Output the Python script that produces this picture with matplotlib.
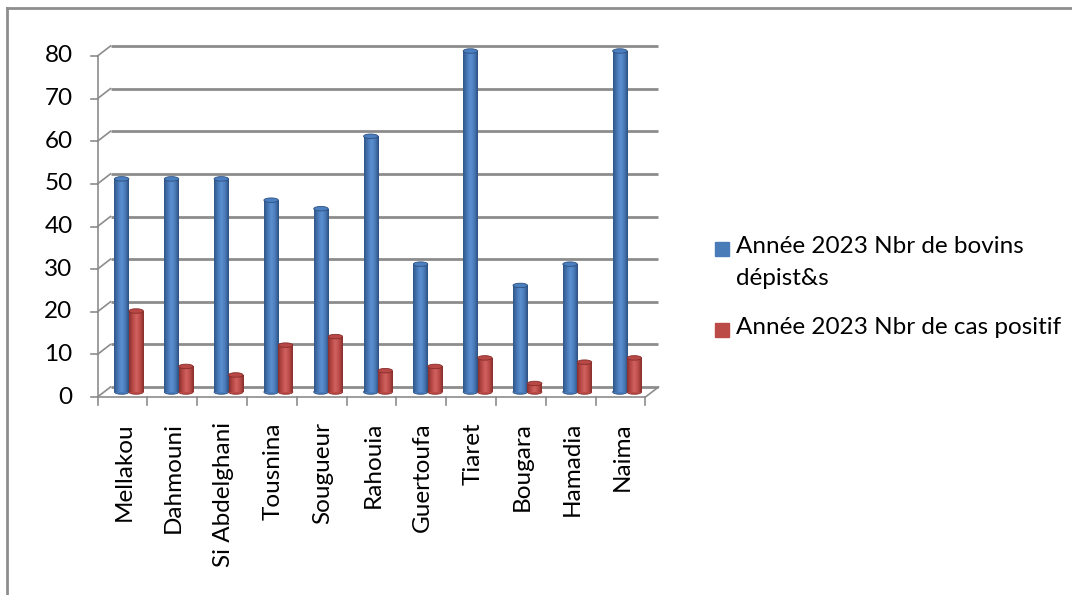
import numpy as np
import matplotlib.pyplot as plt
from matplotlib.colors import LinearSegmentedColormap
from matplotlib.patches import Ellipse, Rectangle

# --- data ---
communes = ["Mellakou", "Dahmouni", "Si Abdelghani", "Tousnina", "Sougueur",
            "Rahouia", "Guertoufa", "Tiaret", "Bougara", "Hamadia", "Naima"]
depistes = [50, 50, 50, 45, 43, 60, 30, 80, 25, 30, 80]
positifs = [19, 6, 4, 11, 13, 5, 6, 8, 2, 7, 8]
series_labels = ["Année 2023 Nbr de bovins\ndépist&s",
                 "Année 2023 Nbr de cas positif"]
y_ticks = list(range(0, 81, 10))

# --- style ---
FONT = "Lato"
FS = 17.5
GRID = "#8c8c8c"
BLUE = ["#2f5687", "#4676b4", "#5d90d0", "#4a7bb9", "#2c5080"]
RED = ["#8a302d", "#b94946", "#d0625f", "#bc4b48", "#862e2b"]
BLUE_TOP, RED_TOP = "#4c7fc0", "#b84845"

W, H = 1072, 595
fig = plt.figure(figsize=(W / 100, H / 100), dpi=100)


def fx(px):
    return px / W


def fy(py):
    return 1 - py / H


# plane in which the cylinders stand (between front and back walls)
ax = fig.add_axes([fx(104), fy(392), fx(652) - fx(104), fy(51) - fy(392)])
ax.set_xlim(-0.5, len(communes) - 0.5)
ax.set_ylim(0, 80)
ax.axis("off")

# pixel offsets of the front edge and the back wall, turned into data units
ppx = (652 - 104) / len(communes)
ppy = (392 - 51) / 80
DX, DY = 6.5 / ppx, 5 / ppy
x0, x1 = -0.5, len(communes) - 0.5

# outer frame: only the top and left edges show
fig.add_artist(plt.Line2D([fx(7), 1], [fy(8), fy(8)], color="#8e8e8e", lw=2,
                          transform=fig.transFigure))
fig.add_artist(plt.Line2D([fx(7), fx(7)], [0, fy(8)], color="#8e8e8e", lw=2,
                          transform=fig.transFigure))

# back wall gridlines and left side-wall diagonals
for v in y_ticks:
    ax.plot([x0 + DX, x1 + DX], [v + DY, v + DY], color=GRID, lw=2,
            clip_on=False, zorder=1, solid_capstyle="butt")
    ax.plot([x0 - DX, x0 + DX], [v - DY, v + DY], color=GRID, lw=1.2,
            clip_on=False, zorder=1)
    # front tick + label
    ax.plot([x0 - DX - 7 / ppx, x0 - DX], [v - DY, v - DY], color=GRID,
            lw=1.2, clip_on=False)
    ax.text(x0 - DX - 25 / ppx, v - DY, str(v), ha="right", va="center",
            fontsize=FS, family=FONT, color="black")

# front vertical axis and floor edges
ax.plot([x0 - DX, x0 - DX], [-DY, 80 - DY], color=GRID, lw=1.2, clip_on=False)
ax.plot([x0 - DX, x1 - DX], [-DY, -DY], color=GRID, lw=1.2, clip_on=False)
ax.plot([x1 - DX, x1 + DX], [-DY, DY], color=GRID, lw=1.2, clip_on=False)
for b in np.arange(len(communes) + 1) - 0.5:
    ax.plot([b - DX, b - DX], [-DY, -DY - 8 / ppy], color=GRID, lw=1.2,
            clip_on=False)

# category labels
for i, name in enumerate(communes):
    ax.text(i - DX + 1.5 / ppx, -DY - 25 / ppy, name, rotation=90,
            ha="center", va="top", fontsize=FS, family=FONT, color="black")

# cylinders
width = 0.29
cap_h = 4.5 / ppy
x = np.arange(len(communes))


def cylinders(xs, values, colors, top_color, z):
    cmap = LinearSegmentedColormap.from_list("cyl", colors)
    grad = np.linspace(0, 1, 64).reshape(1, -1)
    for xc, v in zip(xs, values):
        left = xc - width / 2
        base = Ellipse((xc, 0), width, cap_h, facecolor=colors[3],
                       edgecolor=colors[4], lw=0.6, zorder=z, clip_on=False)
        ax.add_patch(base)
        body = Rectangle((left, 0), width, v, facecolor=colors[3],
                         edgecolor="none", zorder=z + 0.1, clip_on=False)
        ax.add_patch(body)
        im = ax.imshow(grad, cmap=cmap, aspect="auto",
                       extent=(left, left + width, 0, v), zorder=z + 0.2,
                       interpolation="bilinear")
        im.set_clip_path(body)
        top = Ellipse((xc, v), width, cap_h, facecolor=top_color,
                      edgecolor=colors[4], lw=0.6, zorder=z + 0.3,
                      clip_on=False)
        ax.add_patch(top)


for i in range(len(communes)):
    cylinders([x[i] - 0.145], [depistes[i]], BLUE, BLUE_TOP, 3 + i)
    cylinders([x[i] + 0.145], [positifs[i]], RED, RED_TOP, 3.5 + i)
ax.set_xlim(-0.5, len(communes) - 0.5)
ax.set_ylim(0, 80)

# legend
for (sq_y, lab, col) in [(242, series_labels[0], BLUE[3]),
                         (323, series_labels[1], RED[3])]:
    fig.patches.append(Rectangle((fx(715), fy(sq_y + 14)), fx(729) - fx(715),
                                 fy(sq_y) - fy(sq_y + 14),
                                 transform=fig.transFigure, color=col))
    fig.text(fx(736), fy(sq_y - 6), lab, ha="left", va="top", fontsize=FS,
             family=FONT, linespacing=1.65, color="black")

fig.savefig("out.png", dpi=100, facecolor="white")
